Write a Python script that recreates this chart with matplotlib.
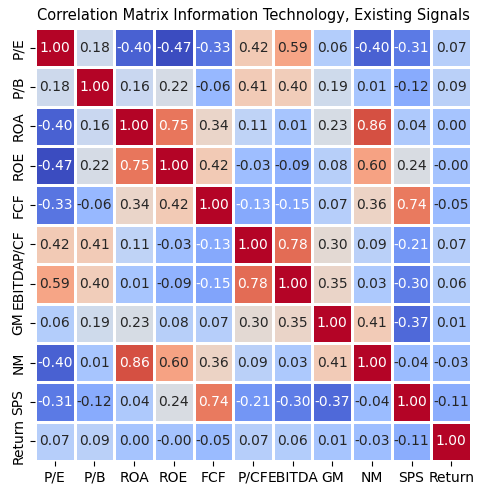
import numpy as np
import pandas as pd
import seaborn as sns
import matplotlib
matplotlib.use("Agg")
import matplotlib.pyplot as plt

signals = ["P/E", "P/B", "ROA", "ROE", "FCF", "P/CF", "EBITDA", "GM", "NM", "SPS", "Return"]

corr_pe = [1.00, 0.18, -0.40, -0.47, -0.33, 0.42, 0.59, 0.06, -0.40, -0.31, 0.07]
corr_pb = [0.18, 1.00, 0.16, 0.22, -0.06, 0.41, 0.40, 0.19, 0.01, -0.12, 0.09]
corr_roa = [-0.40, 0.16, 1.00, 0.75, 0.34, 0.11, 0.01, 0.23, 0.86, 0.04, 0.001]
corr_roe = [-0.47, 0.22, 0.75, 1.00, 0.42, -0.03, -0.09, 0.08, 0.60, 0.24, -0.001]
corr_fcf = [-0.33, -0.06, 0.34, 0.42, 1.00, -0.13, -0.15, 0.07, 0.36, 0.74, -0.05]
corr_pcf = [0.42, 0.41, 0.11, -0.03, -0.13, 1.00, 0.78, 0.30, 0.09, -0.21, 0.07]
corr_ebitda = [0.59, 0.40, 0.01, -0.09, -0.15, 0.78, 1.00, 0.35, 0.03, -0.30, 0.06]
corr_gm = [0.06, 0.19, 0.23, 0.08, 0.07, 0.30, 0.35, 1.00, 0.41, -0.37, 0.01]
corr_nm = [-0.40, 0.01, 0.86, 0.60, 0.36, 0.09, 0.03, 0.41, 1.00, -0.04, -0.03]
corr_sps = [-0.31, -0.12, 0.04, 0.24, 0.74, -0.21, -0.30, -0.37, -0.04, 1.00, -0.11]
corr_ret = [0.07, 0.09, 0.001, -0.001, -0.05, 0.07, 0.06, 0.01, -0.03, -0.11, 1.00]

corr = pd.DataFrame(
    [corr_pe, corr_pb, corr_roa, corr_roe, corr_fcf, corr_pcf,
     corr_ebitda, corr_gm, corr_nm, corr_sps, corr_ret],
    index=signals, columns=signals,
)

fig, ax = plt.subplots(figsize=(4.85, 4.86), dpi=100)
fig.subplots_adjust(left=35 / 485, right=471 / 485, top=1 - 28 / 486, bottom=1 - 461 / 486)
sns.heatmap(corr, annot=True, fmt=".2f", cmap="coolwarm", cbar=False,
            linewidths=0.8, linecolor="white", ax=ax,
            annot_kws={"size": 10})
ax.set_title("Correlation Matrix Information Technology, Existing Signals", fontsize=10.5)
ax.tick_params(labelsize=10)
plt.setp(ax.get_xticklabels(), rotation=0)
plt.setp(ax.get_yticklabels(), rotation=90, va="center")
plt.savefig("out.png")
